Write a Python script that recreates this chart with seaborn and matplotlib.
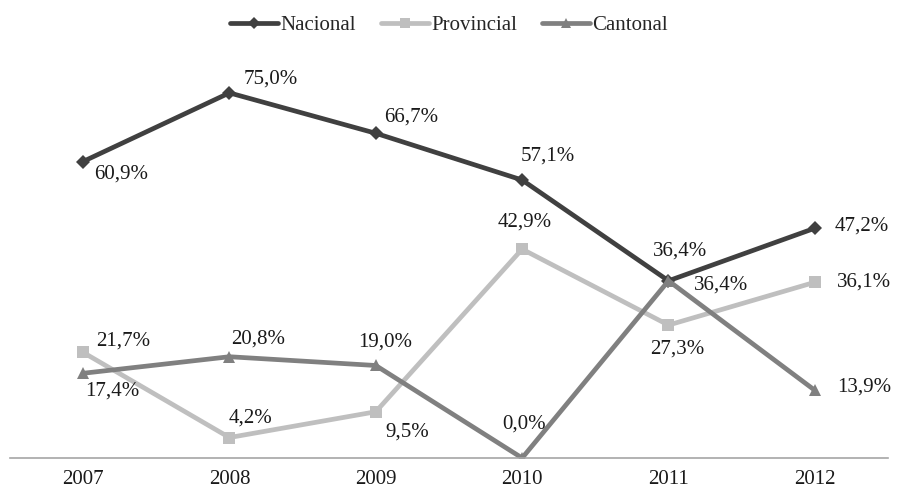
import pandas as pd
import matplotlib.pyplot as plt
import seaborn as sns

years = ['2007', '2008', '2009', '2010', '2011', '2012']
nacional = [60.9, 75.0, 66.7, 57.1, 36.4, 47.2]
provincial = [21.7, 4.2, 9.5, 42.9, 27.3, 36.1]
cantonal = [17.4, 20.8, 19.0, 0.0, 36.4, 13.9]

series = {'Nacional': nacional, 'Provincial': provincial, 'Cantonal': cantonal}
rows = []
for name, vals in series.items():
    for yr, v in zip(years, vals):
        rows.append({'year': yr, 'value': v, 'serie': name})
df = pd.DataFrame(rows)

sns.set_theme(style="white")
plt.rcParams['font.family'] = ['Liberation Serif', 'DejaVu Serif']

palette = {'Nacional': '#404040', 'Provincial': '#bfbfbf', 'Cantonal': '#808080'}
markers = {'Nacional': 'D', 'Provincial': 's', 'Cantonal': '^'}
msizes = {'Nacional': 7, 'Provincial': 8.5, 'Cantonal': 9}

fig, ax = plt.subplots(figsize=(8.97, 4.93), dpi=100)
fig.subplots_adjust(left=0.011, right=0.99, bottom=0.071, top=0.861)

for name in series:
    sns.lineplot(data=df[df['serie'] == name], x='year', y='value', color=palette[name],
                 marker=markers[name], markersize=msizes[name], markeredgewidth=0,
                 linewidth=3.4, label=name, ax=ax, sort=False)

# label offsets in pixels (dx, dy), text left-aligned
offsets = {
    'Nacional': [(11, -13), (14, 14), (8, 16), (-1, 24), (-16, 30), (20, 2)],
    'Provincial': [(13, 11), (-1, 20), (10, -20), (-25, 27), (-18, -24), (22, 0)],
    'Cantonal': [(2, -18), (2, 18), (-18, 23), (-20, 34), (25, -4), (22, 3)],
}
for name, vals in series.items():
    for i, v in enumerate(vals):
        dx, dy = offsets[name][i]
        ax.annotate(f"{v:.1f}%".replace('.', ','), (i, v), xytext=(dx, dy),
                    textcoords='offset pixels', ha='left', va='center',
                    fontsize=15, color='#1a1a1a')

ax.set_xlim(-0.5, 5.5)
ax.set_ylim(0, 80)
ax.set_xlabel('')
ax.set_ylabel('')
ax.set_yticks([])
ax.tick_params(axis='x', length=0, pad=9, labelsize=15, labelcolor='#1a1a1a')
for s in ['top', 'left', 'right']:
    ax.spines[s].set_visible(False)
ax.spines['bottom'].set_color('#a6a6a6')
ax.spines['bottom'].set_linewidth(1.2)

ax.legend(loc='center', bbox_to_anchor=(0.5, 1.11), ncol=3, frameon=False,
          fontsize=15, handlelength=2.3, handletextpad=0.1, columnspacing=1.2,
          markerscale=0.85)

fig.savefig('out.png', dpi=100)
